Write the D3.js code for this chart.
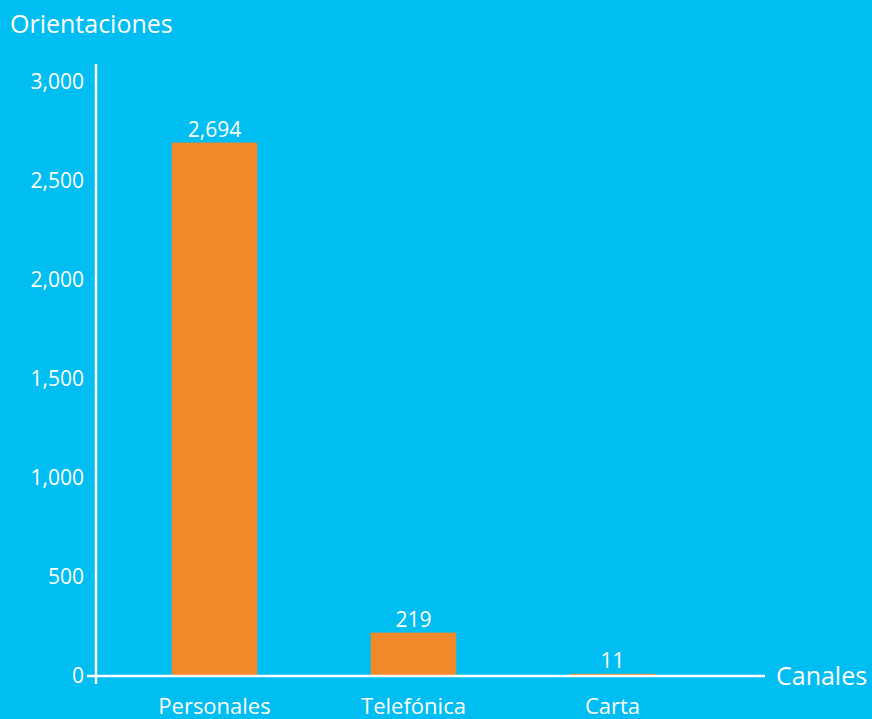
<!DOCTYPE html>
<html>
<head>
<meta charset="utf-8">
<script src="https://cdn.jsdelivr.net/npm/d3@7"></script>
<style>
  html, body { margin: 0; padding: 0; background: #00bdf2; }
  svg { display: block; font-family: "Open Sans", sans-serif; }
</style>
</head>
<body>
<div id="chart"></div>
<script>
(function(){
    const categories = ['Personales', 'Telefónica', 'Carta'];
    const values = [2694, 219, 11];
    const yTicks = [0, 500, 1000, 1500, 2000, 2500, 3000];

    const fullWidth = 872;
    const fullHeight = 719;

    const svg = d3.select('#chart')
        .append('svg')
            .attr('width', fullWidth)
            .attr('height', fullHeight);

    svg.append('rect')
        .attr('width', fullWidth)
        .attr('height', fullHeight)
        .style('fill', '#00bdf2');

    const yScale = d3.scaleLinear()
        .domain([0, 3000])
        .range([676, 82]);

    const xScale = d3.scaleBand()
        .domain(categories)
        .range([116, 711])
        .paddingInner(0.57)
        .paddingOuter(0.28);

    // bars
    svg.selectAll('.bar')
        .data(values)
        .enter().append('rect')
            .attr('class', 'bar')
            .attr('x', (d, i) => xScale(categories[i]))
            .attr('y', d => yScale(d))
            .attr('width', xScale.bandwidth())
            .attr('height', d => yScale(0) - yScale(d))
            .style('fill', '#f0892a');

    // value labels
    svg.selectAll('.val')
        .data(values)
        .enter().append('text')
            .attr('x', (d, i) => xScale(categories[i]) + xScale.bandwidth() / 2)
            .attr('y', d => yScale(d) - 6)
            .attr('text-anchor', 'middle')
            .style('fill', '#fff')
            .style('font-size', '21px')
            .text(d => d3.format(',')(d));

    // y axis
    const yAxis = d3.axisLeft(yScale)
        .tickValues(yTicks)
        .tickFormat(d3.format(','))
        .tickSize(0)
        .tickPadding(12);

    const gy = svg.append('g')
        .attr('transform', 'translate(96, 0)')
        .call(yAxis);
    gy.select('.domain').remove();
    gy.selectAll('text')
        .style('fill', '#fff')
        .style('font-size', '21px')
        .style('font-family', '"Open Sans", sans-serif');

    svg.append('line')
        .attr('x1', 96).attr('x2', 96)
        .attr('y1', 64).attr('y2', 684)
        .style('stroke', '#fff')
        .style('stroke-width', 2.5);

    // x axis
    svg.append('line')
        .attr('x1', 87).attr('x2', 765)
        .attr('y1', yScale(0)).attr('y2', yScale(0))
        .style('stroke', '#fff')
        .style('stroke-width', 2.5);

    svg.selectAll('.cat')
        .data(categories)
        .enter().append('text')
            .attr('x', d => xScale(d) + xScale.bandwidth() / 2)
            .attr('y', 714)
            .attr('text-anchor', 'middle')
            .style('fill', '#fff')
            .style('font-size', '22px')
            .text(d => d);

    // axis titles
    svg.append('text')
        .attr('x', 10)
        .attr('y', 33)
        .style('fill', '#fff')
        .style('font-size', '25px')
        .text('Orientaciones');

    svg.append('text')
        .attr('x', 776)
        .attr('y', 685)
        .style('fill', '#fff')
        .style('font-size', '25px')
        .text('Canales');
}())
</script>
</body>
</html>
